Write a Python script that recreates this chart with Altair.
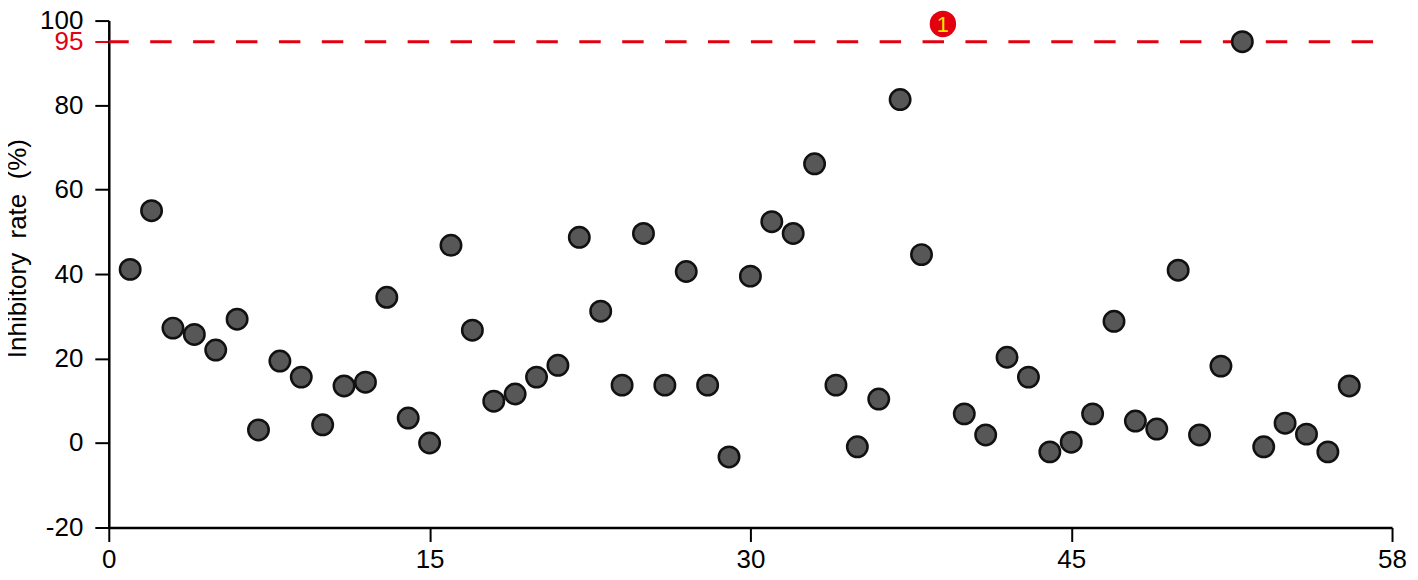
import altair as alt
import pandas as pd

# Compound index (1..58) and inhibitory rate (%)
compound_ids = list(range(1, 59))
inhibitory_rates = [
    41.1, 55.0, 27.2, 25.7, 22.0, 29.3, 3.1, 19.4, 15.6, 4.3,
    13.5, 14.4, 34.5, 5.9, 0.0, 46.8, 26.7, 9.9, 11.6, 15.6,
    18.4, 48.7, 31.2, 13.7, 49.6, 13.7, 40.6, 13.7, -3.3, 39.5,
    52.4, 49.6, 66.1, 13.7, -0.9, 10.4, 81.3, 44.6, 99.2, 6.9,
    1.9, 20.3, 15.6, -2.1, 0.2, 6.9, 28.8, 5.2, 3.3, 40.9,
    1.9, 18.2, 95.0, -0.9, 4.7, 2.1, -2.1, 13.5,
]
hit_ids = [39]
hit_labels = ["1"]
threshold = [95]

x_tick_values = [0, 15, 30, 45, 60]
x_tick_labels = ["0", "15", "30", "45", "58"]
y_tick_values = [-20, 0, 20, 40, 60, 80, 95, 100]

RED = "#e3000f"
FONT = "Liberation Sans"

df = pd.DataFrame({"id": compound_ids, "rate": inhibitory_rates})
df["hit"] = df["id"].isin(hit_ids)
hits = df[df["hit"]].copy()
hits["label"] = hit_labels
others = df[~df["hit"]]
thr = pd.DataFrame({"y": threshold})

label_expr = " : ".join(
    f"datum.value == {v} ? '{l}'" for v, l in zip(x_tick_values, x_tick_labels)
) + " : datum.label"

x_scale = alt.Scale(domain=[0, 60], nice=False, zero=False)
y_scale = alt.Scale(domain=[-20, 100], nice=False, zero=False)

x_axis = alt.Axis(
    values=x_tick_values, labelExpr=label_expr, title=None, grid=False,
    labelFlush=False, labelOverlap=False, tickSize=14, tickWidth=2,
    domainWidth=2.5, domainColor="black", tickColor="black",
    labelFont=FONT, labelFontSize=26, labelColor="black", labelPadding=5,
)
y_axis = alt.Axis(
    values=y_tick_values, title="Inhibitory\u00a0 rate\u00a0 (%)", grid=False,
    labelExpr="datum.value < 0 ? '-' + abs(datum.value) : '' + datum.value",
    labelFlush=False, labelOverlap=False, tickSize=14, tickWidth=2,
    domainWidth=2.5, domainColor="black",
    tickColor={"expr": f"datum.value == 95 ? '{RED}' : 'black'"},
    labelColor={"expr": f"datum.value == 95 ? '{RED}' : 'black'"},
    labelFont=FONT, labelFontSize=26, labelPadding=12,
    titleFont=FONT, titleFontSize=26, titleFontWeight="normal",
    titleColor="black", titleX=-83, titleY=228, titleAngle=270,
    titleAlign="center", titleBaseline="alphabetic",
)

rule = alt.Chart(thr).mark_rule(
    color=RED, strokeWidth=3, strokeDash=[21.5, 21.5], strokeDashOffset=24
).encode(y=alt.Y("y:Q", scale=y_scale, axis=y_axis))

points = alt.Chart(others).mark_circle(
    size=420, color="#575757", opacity=1, stroke="#111111", strokeWidth=2.5
).encode(
    x=alt.X("id:Q", scale=x_scale, axis=x_axis),
    y=alt.Y("rate:Q", scale=y_scale, axis=y_axis),
)

hit_pts = alt.Chart(hits).mark_circle(
    size=700, color=RED, opacity=1
).encode(
    x=alt.X("id:Q", scale=x_scale),
    y=alt.Y("rate:Q", scale=y_scale),
)

hit_text = alt.Chart(hits).mark_text(
    color="#f5e600", font=FONT, fontSize=22, baseline="middle", align="center", dy=1
).encode(
    x=alt.X("id:Q", scale=x_scale),
    y=alt.Y("rate:Q", scale=y_scale),
    text="label:N",
)

chart = alt.layer(rule, points, hit_pts, hit_text).properties(
    width=1286, height=508,
    autosize=alt.AutoSizeParams(type="none"),
    padding={"left": 101, "top": 12, "right": 18, "bottom": 44},
).configure_view(stroke=None)

chart.save("out.html", embed_options={"renderer": "svg", "actions": False})
